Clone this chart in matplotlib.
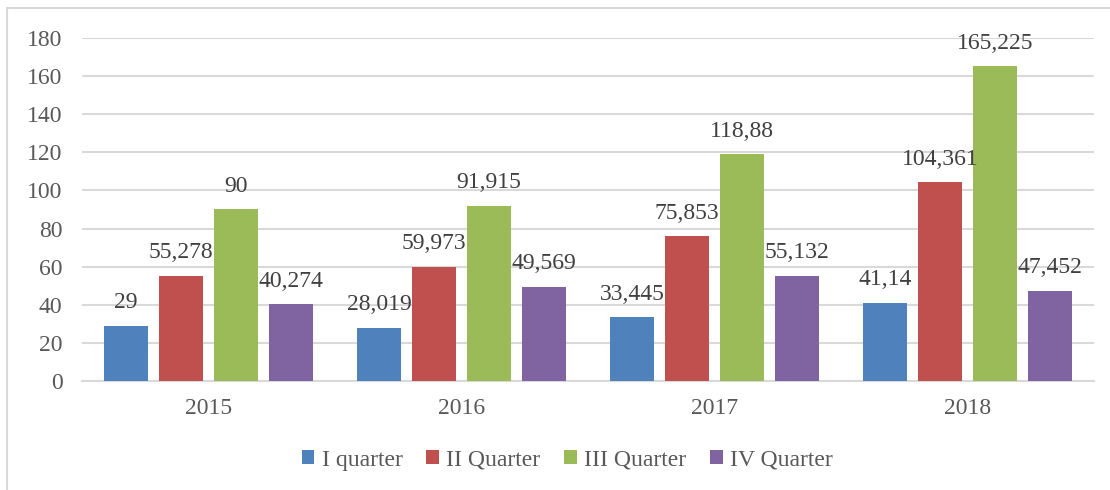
import numpy as np
import matplotlib.pyplot as plt
from matplotlib.patches import Rectangle

years = ['2015', '2016', '2017', '2018']
series_names = ['I quarter', 'II Quarter', 'III Quarter', 'IV Quarter']
q1 = [29, 28.019, 33.445, 41.14]
q2 = [55.278, 59.973, 75.853, 104.361]
q3 = [90, 91.915, 118.88, 165.225]
q4 = [40.274, 49.569, 55.132, 47.452]
colors = ['#4F81BD', '#C0504D', '#9BBB59', '#8064A2']

plt.rcParams['font.family'] = ['Liberation Serif', 'DejaVu Serif']

fig = plt.figure(figsize=(11.1, 4.9), dpi=100)
ax = fig.add_axes([82 / 1110, 1 - 381 / 490, (1094 - 82) / 1110, (381 - 38) / 490])

# light frame of the chart area (only top and left visible in the crop)
fig.patches.append(Rectangle((7 / 1110, -0.1), 1.2, 1 - 8 / 490 + 0.1,
                             transform=fig.transFigure, fill=False,
                             edgecolor='#D9D9D9', linewidth=1.5))

x = np.arange(len(years))
width = 0.174
step = 0.217
for i, (vals, name) in enumerate(zip([q1, q2, q3, q4], series_names)):
    pos = x + (i - 1.5) * step
    ax.bar(pos, vals, width, color=colors[i], label=name, zorder=3)
    for p, v in zip(pos, vals):
        ax.annotate(f"{v:g}".replace('.', ','), (p, v), xytext=(0, 9),
                    textcoords='offset points', ha='center', va='bottom',
                    fontsize=17, color='#404040', zorder=4)

ax.set_xlim(-0.5, 3.5)
ax.set_ylim(0, 180)
ax.set_yticks(range(0, 181, 20))
ax.set_xticks(x)
ax.set_xticklabels(years)
ax.yaxis.grid(True, color='#D9D9D9', linewidth=1.5, zorder=0)
ax.set_axisbelow(True)
for s in ['top', 'right', 'left']:
    ax.spines[s].set_visible(False)
ax.spines['bottom'].set_color('#D9D9D9')
ax.spines['bottom'].set_linewidth(1.5)
ax.tick_params(axis='both', length=0, labelsize=17, labelcolor='#595959')
ax.tick_params(axis='y', pad=14)
ax.tick_params(axis='x', pad=12)

fig.legend(loc='center', bbox_to_anchor=(567 / 1110, 1 - 460 / 490), ncol=4,
           frameon=False, fontsize=17, labelcolor='#595959',
           handlelength=0.55, handleheight=0.55, handletextpad=0.3,
           columnspacing=1.0)

plt.savefig('out.png', dpi=100)
